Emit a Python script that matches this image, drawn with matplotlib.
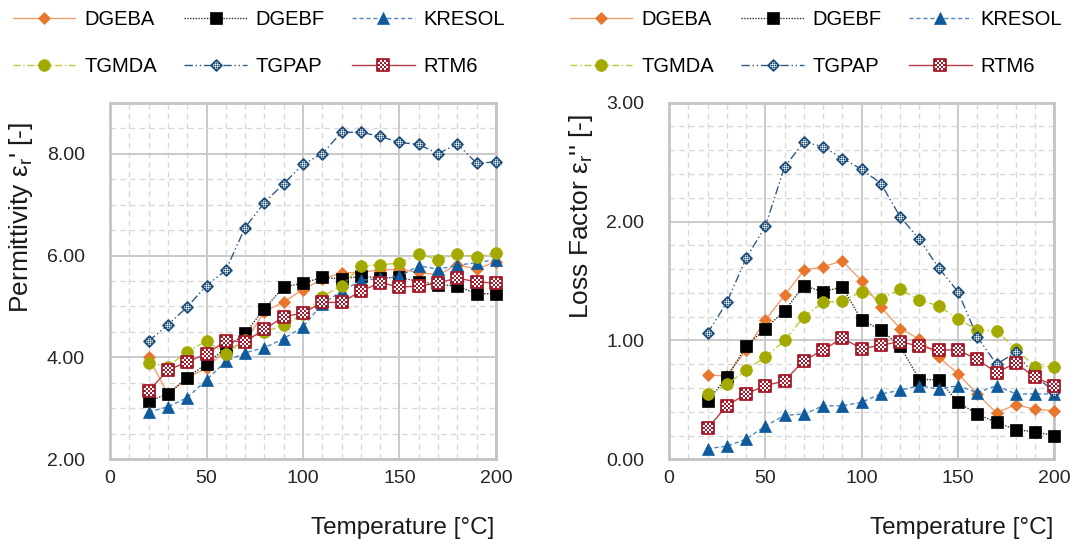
import numpy as np
import matplotlib
matplotlib.use("Agg")
import matplotlib.pyplot as plt
from matplotlib.path import Path
from matplotlib.transforms import Affine2D
from matplotlib.legend_handler import HandlerTuple
from matplotlib.ticker import MultipleLocator, FormatStrFormatter

plt.rcParams['font.family'] = ['Liberation Sans', 'DejaVu Sans']
plt.rcParams['mathtext.default'] = 'regular'

# ---------------- data ----------------
temperature = [20, 30, 40, 50, 60, 70, 80, 90, 100, 110, 120, 130, 140, 150, 160, 170, 180, 190, 200]
series_names = ['DGEBA', 'DGEBF', 'KRESOL', 'TGMDA', 'TGPAP', 'RTM6']

perm_DGEBA = [4.00, 3.28, 3.60, 3.79, 4.15, 4.30, 4.90, 5.09, 5.33, 5.54, 5.66, 5.67, 5.72, 5.73, 5.67, 5.62, 5.82, 5.73, 5.88]
perm_DGEBF = [3.14, 3.28, 3.60, 3.88, 4.18, 4.47, 4.96, 5.38, 5.46, 5.57, 5.54, 5.59, 5.56, 5.57, 5.49, 5.43, 5.40, 5.25, 5.25]
perm_KRESOL = [2.93, 3.03, 3.21, 3.56, 3.92, 4.09, 4.19, 4.37, 4.60, 5.05, 5.30, 5.51, 5.55, 5.59, 5.80, 5.73, 5.81, 5.86, 5.92]
perm_TGMDA = [3.90, 3.82, 4.11, 4.32, 4.07, 4.35, 4.50, 4.63, 4.85, 5.19, 5.41, 5.79, 5.82, 5.85, 6.03, 5.92, 6.03, 5.97, 6.05]
perm_TGPAP = [4.32, 4.64, 4.99, 5.41, 5.71, 6.55, 7.04, 7.41, 7.79, 8.00, 8.42, 8.42, 8.34, 8.22, 8.18, 8.00, 8.19, 7.81, 7.84]
perm_RTM6 = [3.34, 3.75, 3.91, 4.07, 4.32, 4.31, 4.55, 4.80, 4.87, 5.08, 5.08, 5.30, 5.47, 5.38, 5.40, 5.46, 5.56, 5.48, 5.46]

loss_DGEBA = [0.71, 0.70, 0.92, 1.17, 1.38, 1.59, 1.62, 1.67, 1.50, 1.28, 1.10, 1.01, 0.86, 0.72, 0.55, 0.39, 0.46, 0.42, 0.41]
loss_DGEBF = [0.49, 0.69, 0.95, 1.10, 1.25, 1.46, 1.41, 1.45, 1.17, 1.09, 0.95, 0.67, 0.67, 0.48, 0.38, 0.31, 0.25, 0.23, 0.20]
loss_KRESOL = [0.09, 0.11, 0.17, 0.28, 0.37, 0.38, 0.45, 0.45, 0.48, 0.55, 0.58, 0.62, 0.59, 0.62, 0.56, 0.62, 0.55, 0.55, 0.55]
loss_TGMDA = [0.55, 0.63, 0.75, 0.86, 1.00, 1.20, 1.32, 1.33, 1.41, 1.35, 1.43, 1.34, 1.29, 1.18, 1.09, 1.08, 0.93, 0.78, 0.78]
loss_TGPAP = [1.06, 1.32, 1.69, 1.96, 2.46, 2.67, 2.63, 2.53, 2.44, 2.32, 2.04, 1.85, 1.61, 1.41, 1.03, 0.80, 0.90, 0.70, 0.57]
loss_RTM6 = [0.26, 0.45, 0.55, 0.62, 0.66, 0.83, 0.92, 1.02, 0.93, 0.96, 0.99, 0.95, 0.92, 0.92, 0.84, 0.73, 0.81, 0.69, 0.62]

perm_data = [perm_DGEBA, perm_DGEBF, perm_KRESOL, perm_TGMDA, perm_TGPAP, perm_RTM6]
loss_data = [loss_DGEBA, loss_DGEBF, loss_KRESOL, loss_TGMDA, loss_TGPAP, loss_RTM6]

x_ticks = [0, 50, 100, 150, 200]
perm_yticks = [2, 4, 6, 8]
loss_yticks = [0, 1, 2, 3]

# ---------------- custom checker markers ----------------
def checker_path(n=4, rotate=0):
    verts, codes = [], []
    step = 1.0 / n
    for i in range(n):
        for j in range(n):
            if (i + j) % 2 == 0:
                x0 = -0.5 + i * step
                y0 = -0.5 + j * step
                sq = [(x0, y0), (x0 + step, y0), (x0 + step, y0 + step), (x0, y0 + step), (x0, y0)]
                verts += sq
                codes += [Path.MOVETO, Path.LINETO, Path.LINETO, Path.LINETO, Path.CLOSEPOLY]
    verts = Affine2D().rotate_deg(rotate).transform(np.array(verts))
    return Path(verts, codes)

def square_path(rotate=0):
    v = np.array([(-0.5, -0.5), (0.5, -0.5), (0.5, 0.5), (-0.5, 0.5), (-0.5, -0.5)])
    v = Affine2D().rotate_deg(rotate).transform(v)
    return Path(v, [Path.MOVETO, Path.LINETO, Path.LINETO, Path.LINETO, Path.CLOSEPOLY])

diamond_outline = square_path(45)
diamond_checker = checker_path(5, 45)
square_outline = square_path(0)
square_checker = checker_path(5, 0)

styles = [
    dict(color='#F0A070', ls='-', lw=1.0, marker='D', ms=6.3, mfc='#E8762D', mec='#E8762D', mew=0.5),
    dict(color='#333333', ls=(0, (1, 1)), lw=1.0, marker='s', ms=9, mfc='black', mec='black', mew=0.5),
    dict(color='#4F86C0', ls=(0, (3, 2)), lw=1.0, marker='^', ms=8.5, mfc='#0E5A9C', mec='#0E5A9C', mew=0.5),
    dict(color='#BFC840', ls=(0, (5, 2, 1, 2)), lw=1.0, marker='o', ms=8.5, mfc='#A2AA00', mec='#A2AA00', mew=0.5),
    dict(color='#2F5A85', ls=(0, (6, 2, 1, 2, 1, 2)), lw=1.0, marker=diamond_outline, ms=7.8, mfc='white', mec='#1F4E79', mew=1.3),
    dict(color='#B8404A', ls='-', lw=1.0, marker=square_outline, ms=8.0, mfc='white', mec='#A51B2B', mew=1.3),
]
overlay = {4: dict(marker=diamond_checker, ms=7.8, color='#1F4E79'),
           5: dict(marker=square_checker, ms=8.0, color='#A51B2B')}

fig = plt.figure(figsize=(10.81, 5.51), dpi=100)
ax1 = fig.add_axes([110 / 1081, 1 - 459.3 / 551, 386 / 1081, 356.6 / 551])
ax2 = fig.add_axes([669 / 1081, 1 - 459.3 / 551, 385.3 / 1081, 356.6 / 551])

def draw(ax, datasets):
    handles = []
    for k, (name, vals) in enumerate(zip(series_names, datasets)):
        st = styles[k]
        l1, = ax.plot(temperature, vals, color=st['color'], linestyle=st['ls'], linewidth=st['lw'],
                      marker=st['marker'], markersize=st['ms'], markerfacecolor=st['mfc'],
                      markeredgecolor=st['mec'], markeredgewidth=st['mew'], zorder=3 + k, clip_on=False)
        if k in overlay:
            ov = overlay[k]
            l2, = ax.plot(temperature, vals, linestyle='none', marker=ov['marker'], markersize=ov['ms'],
                          markerfacecolor=ov['color'], markeredgewidth=0, zorder=3 + k, clip_on=False)
            handles.append((l1, l2))
        else:
            handles.append(l1)
    return handles

h1 = draw(ax1, perm_data)
h2 = draw(ax2, loss_data)

def style_axes(ax, ylim, yticks, yminor):
    ax.set_xlim(0, 200)
    ax.set_ylim(*ylim)
    ax.set_xticks(x_ticks)
    ax.set_yticks(yticks)
    ax.xaxis.set_minor_locator(MultipleLocator(10))
    ax.yaxis.set_minor_locator(MultipleLocator(yminor))
    ax.yaxis.set_major_formatter(FormatStrFormatter('%.2f'))
    ax.grid(which='major', color='#CACACA', linewidth=1.4, linestyle='-', zorder=0)
    ax.grid(which='minor', color='#D8D8D8', linewidth=1.0, linestyle=(0, (4, 3)), zorder=0)
    ax.set_axisbelow(True)
    ax.tick_params(which='both', length=0)
    ax.tick_params(axis='y', pad=18, labelsize=14, labelcolor='#262626')
    ax.tick_params(axis='x', pad=8, labelsize=14, labelcolor='#262626')
    for s in ax.spines.values():
        s.set_color('#C4C4C4')
        s.set_linewidth(2)

style_axes(ax1, (2, 9), perm_yticks, 0.5)
style_axes(ax2, (0, 3), loss_yticks, 0.2)

ax1.set_ylabel("Permittivity ε$_r$' [-]", fontsize=19, color='#1a1a1a')
ax2.set_ylabel("Loss Factor ε$_r$'' [-]", fontsize=19, color='#1a1a1a')
ax1.yaxis.set_label_coords(-0.195, 0.677)
ax2.yaxis.set_label_coords(-0.193, 0.682)
ax1.set_xlabel('Temperature [°C]', fontsize=17.5, color='#1a1a1a')
ax2.set_xlabel('Temperature [°C]', fontsize=17.5, color='#1a1a1a')
ax1.xaxis.set_label_coords(0.759, -0.163)
ax2.xaxis.set_label_coords(0.76, -0.163)

# legend entries are filled column-wise; reorder to read row-wise like the reference
order = [0, 3, 1, 4, 2, 5]
leg_kw = dict(ncol=3, frameon=False, fontsize=14.5, loc='upper left', borderpad=0, borderaxespad=0,
              handlelength=3.1, handletextpad=0.45, columnspacing=1.35, labelspacing=1.4,
              numpoints=1, handler_map={tuple: HandlerTuple(ndivide=1)})
fig.legend([h1[i] for i in order], [series_names[i] for i in order],
           bbox_to_anchor=(13 / 1081, 1 - 10 / 551), **leg_kw)
fig.legend([h2[i] for i in order], [series_names[i] for i in order],
           bbox_to_anchor=(570 / 1081, 1 - 10 / 551), **leg_kw)

fig.savefig('out.png', dpi=100)
